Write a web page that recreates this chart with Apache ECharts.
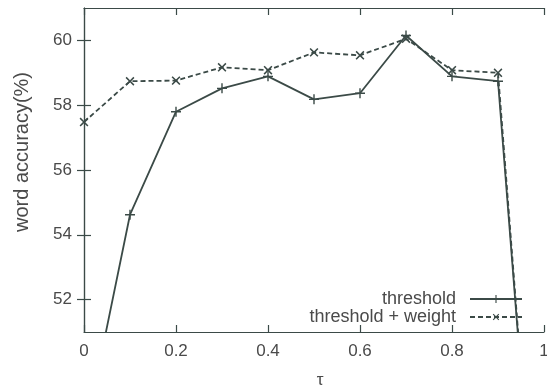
<!DOCTYPE html>
<html><head><meta charset="utf-8">
<script src="https://cdn.jsdelivr.net/npm/echarts@6/dist/echarts.min.js"></script>
<style>html,body{margin:0;padding:0;background:#fff}#c{width:547px;height:391px}</style>
</head><body><div id="c"></div>
<script>
const tau = [0, 0.1, 0.2, 0.3, 0.4, 0.5, 0.6, 0.7, 0.8, 0.9, 1.0];
const threshold = [47.7, 54.62, 57.8, 58.52, 58.89, 58.18, 58.37, 60.15, 58.89, 58.74, 40.7];
const thresholdWeight = [57.48, 58.74, 58.76, 59.17, 59.08, 59.63, 59.54, 60.05, 59.08, 59.0, 40.7];
const yTicks = [52, 54, 56, 58, 60];
const seriesNames = ['threshold', 'threshold + weight'];

const lineColor = '#3b4a47';
const textColor = '#4a4a4a';
const plus = 'path://M4.3,0h1.4v4.3h4.3v1.4h-4.3v4.3h-1.4v-4.3h-4.3v-1.4h4.3z';

const chart = echarts.init(document.getElementById('c'), null, {renderer: 'canvas'});
const axisLine = {show: true, lineStyle: {color: lineColor, width: 1.2}};
const tick = {inside: true, length: 7, lineStyle: {color: lineColor, width: 1.2}};
chart.setOption({
  animation: false,
  backgroundColor: '#fff',
  textStyle: {fontFamily: 'Liberation Sans, Arial, sans-serif'},
  grid: {left: 84, right: 3, top: 8, bottom: 59, containLabel: false, outerBoundsMode: 'none'},
  legend: {
    right: 19, top: 285, orient: 'vertical', align: 'right',
    itemWidth: 52, itemHeight: 10, itemGap: 0,
    textStyle: {color: textColor, fontSize: 18, padding: [0, 9, 0, 0]},
    data: seriesNames
  },
  xAxis: [{
    type: 'value', min: 0, max: 1, interval: 0.2,
    name: 'τ', nameLocation: 'middle', nameGap: 40,
    nameTextStyle: {color: textColor, fontSize: 17, padding: [0, 0, 0, 12]},
    axisLine: axisLine, axisTick: tick, splitLine: {show: false},
    axisLabel: {color: textColor, fontSize: 17, margin: 11, formatter: v => String(+v.toFixed(1))}
  }, {
    type: 'value', min: 0, max: 1, interval: 0.2, position: 'top',
    axisLine: axisLine, axisTick: tick, splitLine: {show: false}, axisLabel: {show: false}
  }],
  yAxis: [{
    type: 'value', min: 51, max: 61,
    name: 'word accuracy(%)', nameLocation: 'middle', nameGap: 52,
    nameTextStyle: {color: textColor, fontSize: 20, padding: [0, 0, 0, 36]},
    axisLine: axisLine, splitLine: {show: false},
    axisTick: Object.assign({customValues: yTicks}, tick),
    axisLabel: {color: textColor, fontSize: 17, margin: 12, customValues: yTicks}
  }, {
    type: 'value', min: 51, max: 61, position: 'right',
    axisLine: axisLine, splitLine: {show: false},
    axisTick: Object.assign({customValues: yTicks}, tick),
    axisLabel: {show: false, customValues: yTicks}
  }],
  series: [{
    name: seriesNames[0], type: 'line',
    data: tau.map((x, i) => [x, threshold[i]]),
    symbol: plus, symbolSize: 10, showSymbol: true,
    lineStyle: {color: lineColor, width: 1.8, type: 'solid'},
    itemStyle: {color: lineColor}
  }, {
    name: seriesNames[1], type: 'line',
    data: tau.map((x, i) => [x, thresholdWeight[i]]),
    symbol: plus, symbolRotate: 45, symbolSize: 11, showSymbol: true,
    lineStyle: {color: lineColor, width: 1.8, type: [5, 3]},
    itemStyle: {color: lineColor}
  }]
});
</script></body></html>
